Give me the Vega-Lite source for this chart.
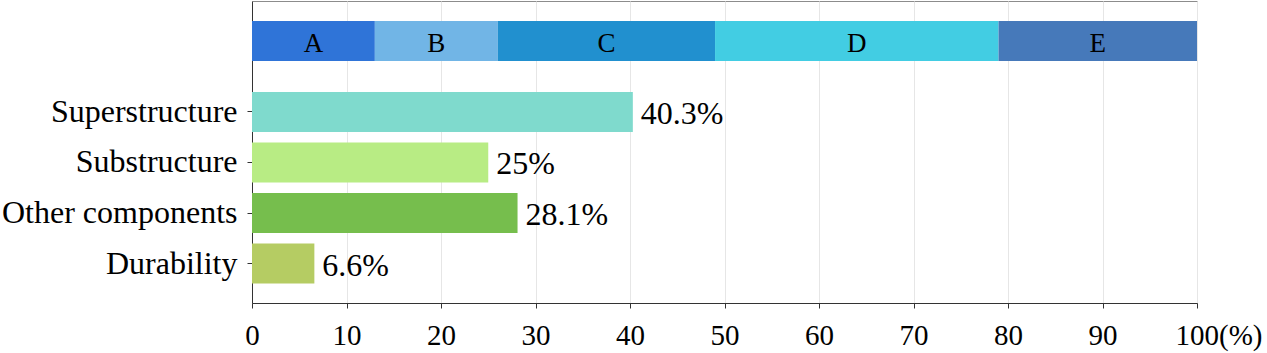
{
  "$schema": "https://vega.github.io/schema/vega-lite/v6.json",
  "width": 945,
  "height": 302,
  "autosize": {"type": "none"},
  "padding": {"left": 252, "top": 1, "right": 70, "bottom": 50},
  "config": {
    "view": {"stroke": "#8c8c8c", "strokeWidth": 1},
    "font": "Liberation Serif",
    "bar": {"stroke": null}
  },
  "layer": [
    {
      "data": {
        "values": [
          {"seg": "A", "start": 0, "end": 13},
          {"seg": "B", "start": 13, "end": 26},
          {"seg": "C", "start": 26, "end": 49},
          {"seg": "D", "start": 49, "end": 79},
          {"seg": "E", "start": 79, "end": 100}
        ]
      },
      "layer": [
        {
          "mark": {"type": "bar"},
          "encoding": {
            "x": {"field": "start", "type": "quantitative", "scale": {"domain": [0, 100], "nice": false},
              "axis": {"title": null, "values": [0,10,20,30,40,50,60,70,80,90,100], "grid": true, "gridColor": "#e6e6e6", "domainColor": "#333333", "tickColor": "#333333", "tickSize": 5, "labelFontSize": 29, "labelColor": "#000000", "labelFont": "Liberation Serif", "labelPadding": 13, "labelFlush": false, "labelOverlap": false, "labelExpr": "datum.value == 100 ? '100(%)' : datum.label", "labelAlign": {"condition": {"test": "datum.value == 100", "value": "left"}, "value": "center"}, "labelOffset": {"condition": {"test": "datum.value == 100", "value": -22}, "value": 0}}},
            "x2": {"field": "end"},
            "y": {"datum": "Mix", "type": "nominal", "scale": {"domain": ["Mix","d1","d2","d3","d4","d5"], "paddingInner": 0, "paddingOuter": 0.775, "align": 0.3226, "round": false}, "axis": null},
            "color": {"field": "seg", "type": "nominal", "scale": {"domain": ["A","B","C","D","E"], "range": ["#2F74D8","#71B5E6","#2190CF","#42CDE3","#4679BA"]}, "legend": null}
          }
        },
        {
          "transform": [
            {"fold": ["start", "end"], "as": ["k", "edge"]},
            {"aggregate": [{"op": "mean", "field": "edge", "as": "mid"}], "groupby": ["seg"]}
          ],
          "mark": {"type": "text", "fontSize": 27, "baseline": "middle", "dy": 3, "color": "#000000", "font": "Liberation Serif"},
          "encoding": {
            "x": {"field": "mid", "type": "quantitative"},
            "y": {"datum": "Mix", "type": "nominal"},
            "text": {"field": "seg", "type": "nominal"}
          }
        }
      ]
    },
    {
      "data": {
        "values": [
          {"part": "Superstructure", "pct": 40.3},
          {"part": "Substructure", "pct": 25},
          {"part": "Other components", "pct": 28.1},
          {"part": "Durability", "pct": 6.6}
        ]
      },
      "encoding": {
        "y": {"field": "part", "type": "nominal",
          "scale": {"domain": ["_pad","Superstructure","Substructure","Other components","Durability"], "paddingInner": 0.208, "paddingOuter": 0.594, "align": 0.675, "round": false},
          "axis": {"orient": "left", "title": null, "values": ["Superstructure","Substructure","Other components","Durability"], "domainColor": "#333333", "tickColor": "#333333", "tickSize": 5, "labelFontSize": 32, "labelPadding": 10, "labelColor": "#000000", "labelFont": "Liberation Serif", "grid": false, "labelLimit": 400}}
      },
      "layer": [
        {
          "mark": {"type": "bar"},
          "encoding": {
            "x": {"field": "pct", "type": "quantitative"},
            "color": {"field": "part", "type": "nominal", "scale": {"domain": ["Superstructure","Substructure","Other components","Durability"], "range": ["#7FDACD","#B8EC84","#76BE4D","#B5CC63"]}, "legend": null}
          }
        },
        {
          "mark": {"type": "text", "fontSize": 32, "align": "left", "baseline": "middle", "dx": 8, "dy": 2, "color": "#000000", "font": "Liberation Serif", "text": {"expr": "datum.pct + '%'"}},
          "encoding": {
            "x": {"field": "pct", "type": "quantitative"}
          }
        }
      ]
    }
  ],
  "resolve": {"scale": {"y": "independent", "color": "independent"}, "axis": {"y": "independent"}}
}
